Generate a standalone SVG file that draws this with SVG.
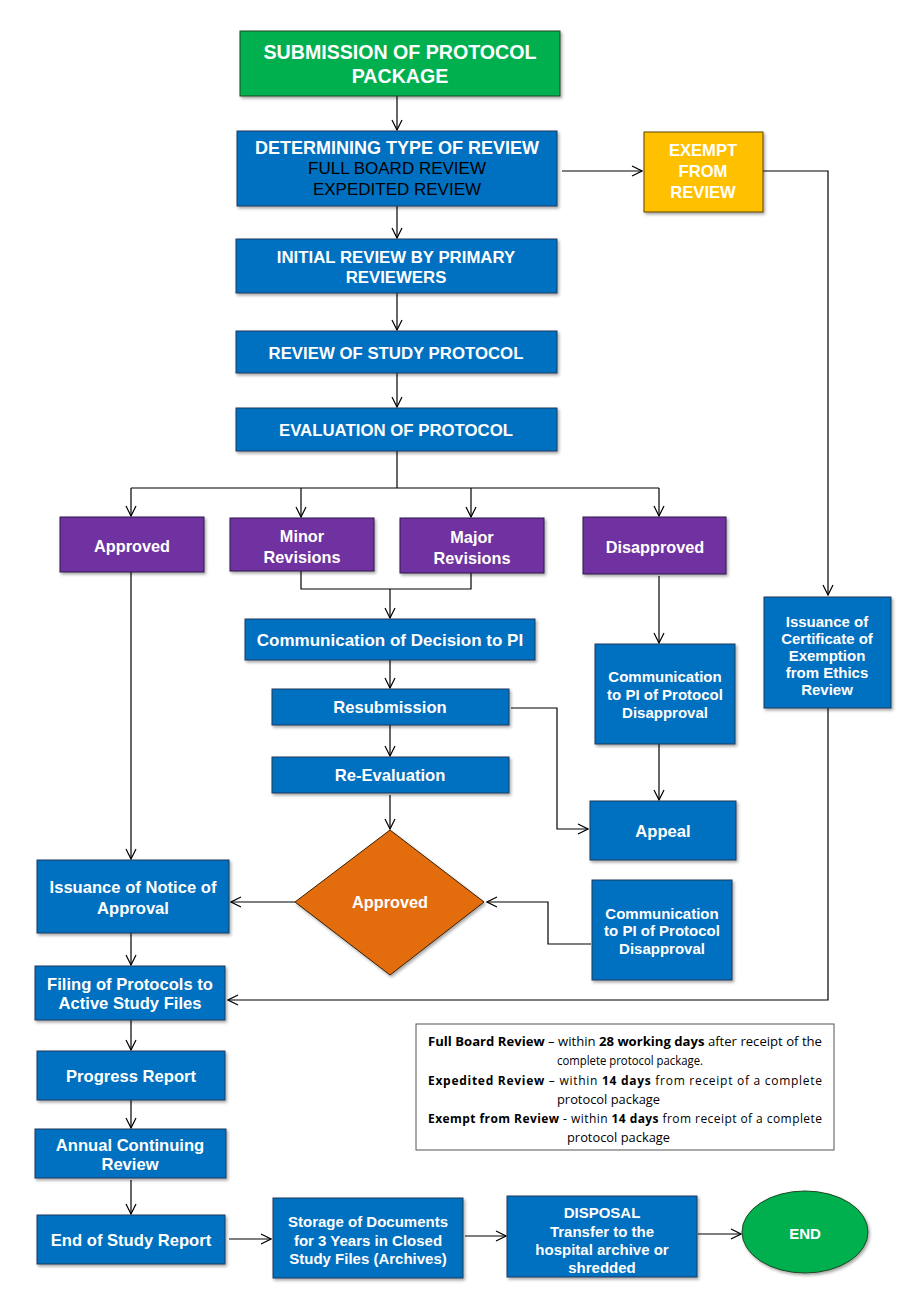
<svg xmlns="http://www.w3.org/2000/svg" width="900" height="1300" viewBox="0 0 900 1300">
<defs>
<marker id="arr" viewBox="0 0 12 12" refX="11" refY="6" markerWidth="12" markerHeight="12" markerUnits="userSpaceOnUse" orient="auto">
<path d="M1,1 L11,6 L1,11" fill="none" stroke="#000" stroke-width="1.2"/>
</marker>
<filter id="sh" x="-10%" y="-10%" width="125%" height="130%">
<feDropShadow dx="1.5" dy="2" stdDeviation="1.5" flood-color="#000" flood-opacity="0.35"/>
</filter>
</defs>
<style>
.b{fill:#0070C0;stroke:#1F3A5F;stroke-width:1;filter:url(#sh)}
.p{fill:#7030A0;stroke:#2E1A47;stroke-width:1;filter:url(#sh)}
.g{fill:#00B050;stroke:#1E4620;stroke-width:1;filter:url(#sh)}
.y{fill:#FFC000;stroke:#5A4500;stroke-width:1;filter:url(#sh)}
.o{fill:#E36C09;stroke:#3A1F05;stroke-width:1;filter:url(#sh)}
.t{font-family:"Liberation Sans",Arial,sans-serif;font-weight:bold;fill:#fff;text-anchor:middle;font-size:16.6px}
.s{font-size:15px}
.u{font-size:16.3px}
.h{font-size:16.8px}
.k{font-family:"Liberation Sans",Arial,sans-serif;fill:#000;text-anchor:middle;font-size:17px}
.c line,.c polyline{fill:none;stroke:#000;stroke-width:1.2}
.a{marker-end:url(#arr)}
.lg{font-family:"Open Sans","Liberation Sans",sans-serif;font-size:12px;fill:#000}
.lg .bd{font-weight:bold}
</style>
<rect width="900" height="1300" fill="#fff"/>

<g class="c" id="connectors">
<line class="a" x1="397" y1="96" x2="397" y2="130"/>
<line class="a" x1="562" y1="171" x2="642" y2="171"/>
<polyline class="a" points="763,171 828,171 828,595"/>
<polyline class="a" points="828,708 828,1000 228,1000"/>
<line class="a" x1="397" y1="206" x2="397" y2="238"/>
<line class="a" x1="397" y1="293" x2="397" y2="330"/>
<line class="a" x1="397" y1="373" x2="397" y2="407"/>
<line x1="397" y1="451" x2="397" y2="488"/>
<line x1="131" y1="488" x2="659" y2="488"/>
<line class="a" x1="131" y1="488" x2="131" y2="516"/>
<line class="a" x1="301" y1="488" x2="301" y2="517"/>
<line class="a" x1="471" y1="488" x2="471" y2="517"/>
<line class="a" x1="659" y1="488" x2="659" y2="516"/>
<polyline points="301,571 301,589 471,589 471,573"/>
<line class="a" x1="390" y1="589" x2="390" y2="618"/>
<line class="a" x1="390" y1="660" x2="390" y2="688"/>
<line class="a" x1="390" y1="725" x2="390" y2="756"/>
<line class="a" x1="390" y1="795" x2="390" y2="829"/>
<polyline class="a" points="511,708 557,708 557,829 588,829"/>
<line class="a" x1="659" y1="576" x2="659" y2="643"/>
<line class="a" x1="659" y1="744" x2="659" y2="800"/>
<polyline class="a" points="591,944 548,944 548,902 487,902"/>
<line class="a" x1="295" y1="902" x2="231" y2="902"/>
<line class="a" x1="131" y1="572" x2="131" y2="859"/>
<line class="a" x1="131" y1="933" x2="131" y2="965"/>
<line class="a" x1="131" y1="1020" x2="131" y2="1050"/>
<line class="a" x1="131" y1="1100" x2="131" y2="1128"/>
<line class="a" x1="131" y1="1180" x2="131" y2="1214"/>
<line class="a" x1="229" y1="1239" x2="271" y2="1239"/>
<line class="a" x1="465" y1="1236" x2="506" y2="1236"/>
<line class="a" x1="698" y1="1234" x2="741" y2="1234"/>
</g>

<g id="submission"><rect class="g" x="240" y="31" width="320" height="65"/>
<text class="t" style="font-size:19.6px" x="400" y="59">SUBMISSION OF PROTOCOL</text>
<text class="t" style="font-size:19.6px" x="400" y="83">PACKAGE</text></g>

<g id="determining"><rect class="b" x="237" y="131" width="320" height="75"/>
<text class="t" style="font-size:18px" x="397" y="154">DETERMINING TYPE OF REVIEW</text>
<text class="k" x="397" y="174">FULL BOARD REVIEW</text>
<text class="k" x="397" y="195">EXPEDITED REVIEW</text></g>

<g id="exempt"><rect class="y" x="644" y="132" width="119" height="80"/>
<text class="t" x="703" y="156">EXEMPT</text>
<text class="t" x="703" y="177">FROM</text>
<text class="t" x="703" y="198">REVIEW</text></g>

<g id="initial"><rect class="b" x="236" y="239" width="321" height="54"/>
<text class="t h" x="396" y="263">INITIAL REVIEW BY PRIMARY</text>
<text class="t h" x="396" y="283">REVIEWERS</text></g>

<g id="review"><rect class="b" x="236" y="331" width="321" height="42"/>
<text class="t h" x="396" y="359">REVIEW OF STUDY PROTOCOL</text></g>

<g id="evaluation"><rect class="b" x="236" y="408" width="321" height="43"/>
<text class="t h" x="396" y="436">EVALUATION OF PROTOCOL</text></g>

<g id="approved1"><rect class="p" x="60" y="517" width="144" height="55"/>
<text class="t u" x="132" y="552">Approved</text></g>

<g id="minor"><rect class="p" x="230" y="518" width="144" height="53"/>
<text class="t u" x="302" y="542">Minor</text>
<text class="t u" x="302" y="563">Revisions</text></g>

<g id="major"><rect class="p" x="400" y="518" width="144" height="55"/>
<text class="t u" x="472" y="543">Major</text>
<text class="t u" x="472" y="564">Revisions</text></g>

<g id="disapproved"><rect class="p" x="583" y="517" width="143" height="57"/>
<text class="t u" x="655" y="553">Disapproved</text></g>

<g id="certificate"><rect class="b" x="764" y="597" width="127" height="111"/>
<text class="t s" x="827" y="627">Issuance of</text>
<text class="t s" x="827" y="644">Certificate of</text>
<text class="t s" x="827" y="661">Exemption</text>
<text class="t s" x="827" y="678">from Ethics</text>
<text class="t s" x="827" y="695">Review</text></g>

<g id="commdecision"><rect class="b" x="245" y="619" width="290" height="41"/>
<text class="t" style="font-size:17px" x="390" y="646">Communication of Decision to PI</text></g>

<g id="resubmission"><rect class="b" x="272" y="689" width="237" height="36"/>
<text class="t" x="390" y="713">Resubmission</text></g>

<g id="reevaluation"><rect class="b" x="272" y="757" width="237" height="36"/>
<text class="t" x="390" y="781">Re-Evaluation</text></g>

<g id="commdisapproval1"><rect class="b" x="595" y="644" width="140" height="100"/>
<text class="t s" x="665" y="682">Communication</text>
<text class="t s" x="665" y="700">to PI of Protocol</text>
<text class="t s" x="665" y="718">Disapproval</text></g>

<g id="appeal"><rect class="b" x="590" y="801" width="146" height="59"/>
<text class="t" x="663" y="837">Appeal</text></g>

<g id="approved2"><polygon class="o" points="390,830 484,902 390,975 295,902"/>
<text class="t u" x="390" y="908">Approved</text></g>

<g id="commdisapproval2"><rect class="b" x="592" y="880" width="140" height="100"/>
<text class="t s" x="662" y="919">Communication</text>
<text class="t s" x="662" y="936">to PI of Protocol</text>
<text class="t s" x="662" y="954">Disapproval</text></g>

<g id="notice"><rect class="b" x="37" y="860" width="192" height="73"/>
<text class="t" x="133" y="893">Issuance of Notice of</text>
<text class="t" x="133" y="914">Approval</text></g>

<g id="filing"><rect class="b" x="35" y="966" width="190" height="54"/>
<text class="t" x="130" y="990">Filing of Protocols to</text>
<text class="t" x="130" y="1009">Active Study Files</text></g>

<g id="progress"><rect class="b" x="37" y="1051" width="188" height="49"/>
<text class="t" x="131" y="1082">Progress Report</text></g>

<g id="annual"><rect class="b" x="35" y="1129" width="191" height="49"/>
<text class="t" x="130" y="1151">Annual Continuing</text>
<text class="t" x="130" y="1170">Review</text></g>

<g id="endreport"><rect class="b" x="37" y="1215" width="188" height="49"/>
<text class="t" x="131" y="1246">End of Study Report</text></g>

<g id="storage"><rect class="b" x="273" y="1198" width="190" height="80"/>
<text class="t s" x="368" y="1227">Storage of Documents</text>
<text class="t s" x="368" y="1246">for 3 Years in Closed</text>
<text class="t s" x="368" y="1264">Study Files (Archives)</text></g>

<g id="disposal"><rect class="b" x="507" y="1196" width="190" height="81"/>
<text class="t s" x="602" y="1218">DISPOSAL</text>
<text class="t s" x="602" y="1237">Transfer to the</text>
<text class="t s" x="602" y="1255">hospital archive or</text>
<text class="t s" x="602" y="1273">shredded</text></g>

<g id="end"><ellipse class="g" cx="805" cy="1232" rx="63" ry="41"/>
<text class="t s" x="805" y="1239">END</text></g>

<g id="legend"><rect x="416" y="1024" width="418" height="126" fill="#fff" stroke="#555" stroke-width="1"/>
<text class="lg" x="428" y="1046" textLength="394" lengthAdjust="spacingAndGlyphs"><tspan class="bd">Full Board Review</tspan> – within <tspan class="bd">28 working days</tspan> after receipt of the</text>
<text class="lg" x="557" y="1065" textLength="146" lengthAdjust="spacingAndGlyphs">complete protocol package.</text>
<text class="lg" x="428" y="1085" textLength="394" lengthAdjust="spacing"><tspan class="bd">Expedited Review</tspan> – within <tspan class="bd">14 days</tspan> from receipt of a complete</text>
<text class="lg" x="557" y="1104" textLength="103" lengthAdjust="spacingAndGlyphs">protocol package</text>
<text class="lg" x="428" y="1123" textLength="394" lengthAdjust="spacing"><tspan class="bd">Exempt from Review</tspan> - within <tspan class="bd">14 days</tspan> from receipt of a complete</text>
<text class="lg" x="567" y="1142" textLength="103" lengthAdjust="spacingAndGlyphs">protocol package</text></g>
</svg>
